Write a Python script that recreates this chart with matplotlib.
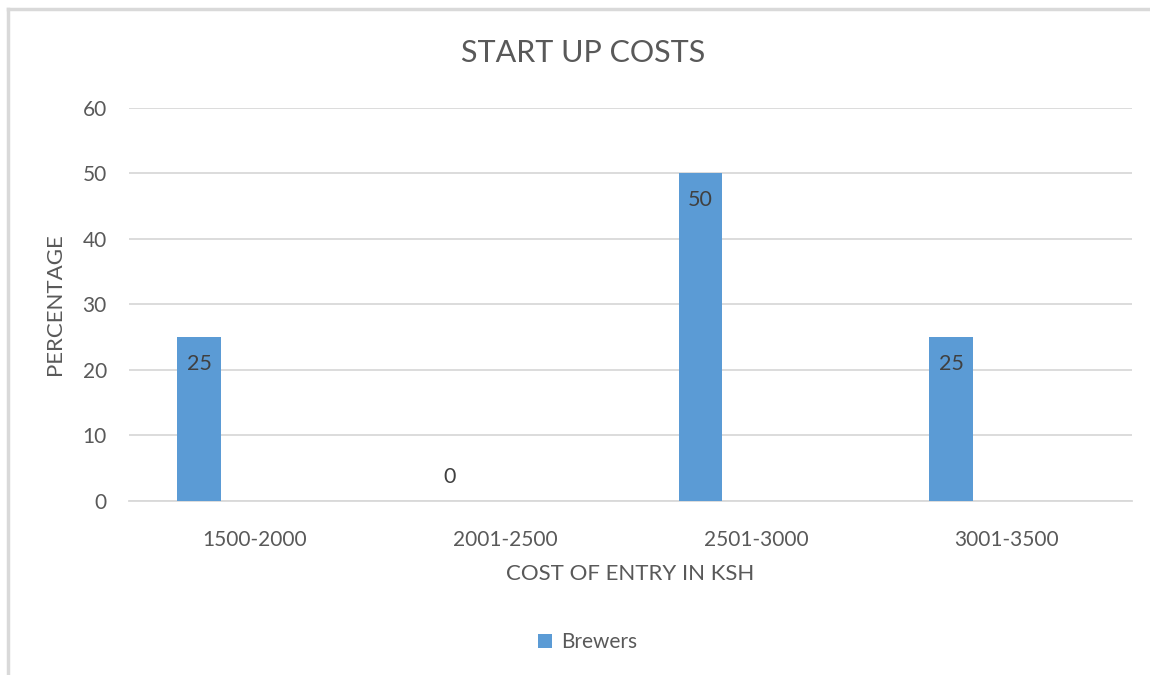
import matplotlib
matplotlib.use("Agg")
import matplotlib.pyplot as plt
from matplotlib.lines import Line2D
from matplotlib.patches import Patch
import numpy as np

plt.rcParams['font.family'] = ['Lato', 'DejaVu Sans']

# cost bands and share of brewers in each
categories = ['1500-2000', '2001-2500', '2501-3000', '3001-3500']
brewers = [25, 0, 50, 25]
y_ticks = [0, 10, 20, 30, 40, 50, 60]

text_color = '#595959'
grid_color = '#d9d9d9'
bar_color = '#5b9bd5'

fig = plt.figure(figsize=(11.5, 6.75), dpi=100)
ax = fig.add_axes([0.1122, 0.2578, 0.8721, 0.5822])

x = np.arange(len(categories))
offset = -0.221
width = 0.173
bars = ax.bar(x + offset, brewers, width=width, color=bar_color, zorder=3)

# value labels just inside the top of each bar
for xi, v in zip(x + offset, brewers):
    if v > 0:
        ax.annotate(str(v), (xi, v), xytext=(0, -12), textcoords='offset points',
                    ha='center', va='top', fontsize=15.5, color='#404040')
    else:
        ax.annotate(str(v), (xi, v), xytext=(0, 10), textcoords='offset points',
                    ha='center', va='bottom', fontsize=15.5, color='#404040')

ax.set_xlim(-0.5, len(categories) - 0.5)
ax.set_ylim(0, 60)
ax.set_yticks(y_ticks)
ax.set_xticks(x)
ax.set_xticklabels(categories)
ax.yaxis.grid(True, color=grid_color, linewidth=1.3, zorder=0)
ax.set_axisbelow(True)
for s in ['top', 'right', 'left']:
    ax.spines[s].set_visible(False)
ax.spines['bottom'].set_color(grid_color)
ax.spines['bottom'].set_linewidth(1.3)
ax.tick_params(axis='both', length=0, colors=text_color, labelsize=15)
ax.tick_params(axis='x', pad=21)
ax.tick_params(axis='y', pad=16)

fig.text(0.507, 0.921, 'START UP COSTS', fontsize=22, color=text_color,
         ha='center', va='center')
ax.set_xlabel('COST OF ENTRY IN KSH', fontsize=16, color=text_color, labelpad=10)
ax.set_ylabel('PERCENTAGE', fontsize=16, color=text_color, labelpad=13)

fig.legend(handles=[Patch(facecolor=bar_color, label='Brewers')],
           loc='center', bbox_to_anchor=(0.511, 0.049), frameon=False,
           fontsize=15, labelcolor=text_color, handlelength=0.65, handleheight=0.65,
           handletextpad=0.45)

# chart frame lines along the top and left edge
fig.add_artist(Line2D([0.007, 1.0], [0.987, 0.987], color='#d9d9d9', linewidth=2.5,
                      transform=fig.transFigure))
fig.add_artist(Line2D([0.007, 0.007], [0.0, 0.987], color='#d9d9d9', linewidth=2.5,
                      transform=fig.transFigure))

fig.savefig('out.png', dpi=100)
